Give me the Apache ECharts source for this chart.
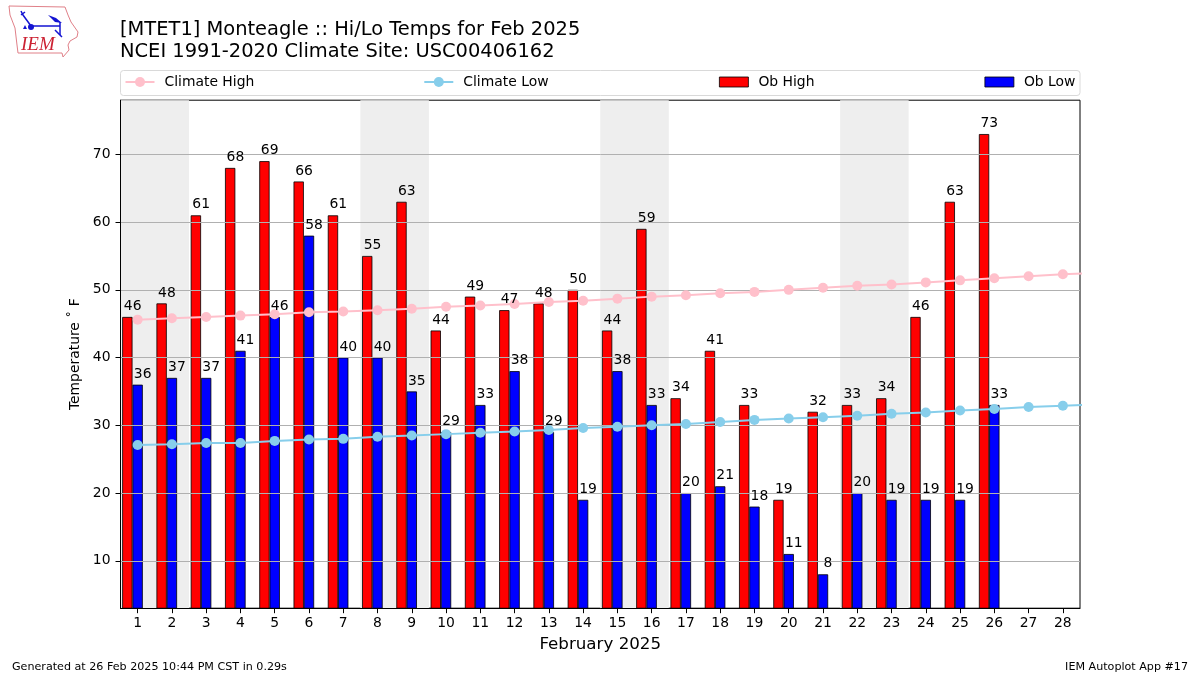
<!DOCTYPE html>
<html><head><meta charset="utf-8">
<style>html,body{margin:0;padding:0;background:#fff}#c{width:1200px;height:675px}</style>
<script src="https://cdn.jsdelivr.net/npm/echarts@6/dist/echarts.min.js"></script>
</head><body><div id="c"></div>
<script>
const days = ['1','2','3','4','5','6','7','8','9','10','11','12','13','14','15','16','17','18','19','20','21','22','23','24','25','26','27','28'];
const obHigh = [46,48,61,68,69,66,61,55,63,44,49,47,48,50,44,59,34,41,33,19,32,33,34,46,63,73,null,null];
const obLow = [36,37,37,41,46,58,40,40,35,29,33,38,29,19,38,33,20,21,18,11,8,20,19,19,19,33,null,null];
const climateDays = [1,2,3,4,5,6,7,8,9,10,11,12,13,14,15,16,17,18,19,20,21,22,23,24,25,26,27,28,29];
const climateHigh = [45.6,45.8,46,46.2,46.4,46.7,46.8,47,47.2,47.5,47.7,47.9,48.2,48.4,48.7,49,49.2,49.5,49.7,50,50.3,50.6,50.8,51.1,51.4,51.7,52,52.3,52.5];
const climateLow = [27.1,27.2,27.4,27.4,27.7,27.9,28,28.3,28.5,28.7,28.9,29.1,29.3,29.6,29.8,30,30.2,30.5,30.8,31,31.2,31.4,31.7,31.9,32.2,32.4,32.7,32.9,33.1];
const yTicks = [10,20,30,40,50,60,70];
const weekends = [[0.5,2.5],[7.5,9.5],[14.5,16.5],[21.5,23.5]];
const FONT = '"DejaVu Sans"';
const TXT = '#000';
const BLUE = '#1414d2';
const pair = (xs, ys) => xs.map((x,i)=>[x,ys[i]]);
const barSeries = (name, vals, shift, color) => ({
  name, type:'bar', xAxisIndex:1, yAxisIndex:0, z:2, barWidth:10.3, barGap:'-100%',
  data: vals.map((v,i)=>v==null?null:[i+1+shift,v]).filter(Boolean),
  itemStyle:{color, borderColor:'#000', borderWidth:0.8}
});
const labelSeries = (name, vals, dx) => ({
  name, type:'scatter', xAxisIndex:0, yAxisIndex:0, z:8, symbolSize:0, silent:true, itemStyle:{opacity:1},
  data: vals.map((v,i)=>v==null?null:[i,v]).filter(Boolean),
  label:{show:true, position:'top', distance:0, offset:[dx,-3.5], formatter:p=>p.value[1], fontFamily:FONT, fontSize:13.9, color:TXT}
});
const lineSeries = (name, vals, color) => ({
  name, type:'line', xAxisIndex:1, yAxisIndex:0, z:6, data:pair(climateDays, vals), symbol:'circle', symbolSize:10,
  lineStyle:{color, width:2}, itemStyle:{color}, showSymbol:true, clip:true
});
const legendText = {fontFamily:FONT, fontSize:13.9, color:TXT, padding:[0,0,0,5]};
const chart = echarts.init(document.getElementById('c'), null, {renderer:'canvas'});
chart.setOption({
  animation:false,
  backgroundColor:'#fff',
  title:[
    {text:'[MTET1] Monteagle :: Hi/Lo Temps for Feb 2025\nNCEI 1991-2020 Climate Site: USC00406162', left:120, top:19, padding:0,
     textStyle:{fontFamily:FONT, fontSize:19.45, fontWeight:'normal', color:TXT, lineHeight:22}},
    {text:'Generated at 26 Feb 2025 10:44 PM CST in 0.29s', left:12, top:662, padding:0, textStyle:{fontFamily:FONT, fontSize:11.13, fontWeight:'normal', color:TXT}},
    {text:'IEM Autoplot App #17', right:12, top:662, padding:0, textStyle:{fontFamily:FONT, fontSize:11.13, fontWeight:'normal', color:TXT}}
  ],
  legend:[
    {show:true, left:124.5, top:75, padding:0, itemGap:169, itemWidth:29, itemHeight:12.5, selectedMode:false,
     data:['Climate High','Climate Low'], textStyle:legendText},
    {show:true, left:719, top:75, padding:0, itemGap:170, itemWidth:29, itemHeight:10, selectedMode:false,
     itemStyle:{borderWidth:0.8},
     data:[{name:'Ob High',icon:'rect'},{name:'Ob Low',icon:'rect'}], textStyle:legendText}
  ],
  grid:{show:true, left:120.5, right:120, top:100.2, bottom:66.8, borderColor:'#000', borderWidth:1, backgroundColor:'#fff', containLabel:false},
  xAxis:[
    {type:'category', data:days, position:'bottom', boundaryGap:true, z:4,
     name:'February 2025', nameLocation:'middle', nameGap:28, nameTextStyle:{fontFamily:FONT, fontSize:16.7, color:TXT},
     axisLine:{show:true, lineStyle:{color:'#000', width:1}},
     axisTick:{show:true, alignWithLabel:true, length:5, lineStyle:{color:'#000', width:1}},
     axisLabel:{fontFamily:FONT, fontSize:13.9, color:TXT, margin:8, interval:0}, splitLine:{show:false}},
    {type:'value', min:0.5, max:28.5, show:false, splitLine:{show:false}}
  ],
  yAxis:[{type:'value', min:3, max:78, z:3, position:'left',
    name:'Temperature ˚ F', nameLocation:'middle', nameGap:36, nameRotate:90, nameTextStyle:{fontFamily:FONT, fontSize:13.9, color:TXT},
    axisLine:{show:true, lineStyle:{color:'#000', width:1}},
    axisTick:{show:true, length:5, lineStyle:{color:'#000', width:1}, customValues:yTicks},
    axisLabel:{fontFamily:FONT, fontSize:13.9, color:TXT, margin:10, padding:[3,0,0,0], customValues:yTicks},
    splitLine:{show:true, lineStyle:{color:'#b0b0b0', width:1}}
  }],
  series:[
    {name:'weekend', type:'line', xAxisIndex:1, yAxisIndex:0, z:1, data:[], silent:true,
     markArea:{silent:true, itemStyle:{color:'#eeeeee'}, label:{show:false},
       data:weekends.map(w=>[{xAxis:w[0], yAxis:3},{xAxis:w[1], yAxis:78}])}},
    barSeries('Ob High', obHigh, -0.3, '#ff0000'),
    barSeries('Ob Low', obLow, 0, '#0000ff'),
    lineSeries('Climate High', climateHigh, '#ffc0cb'),
    lineSeries('Climate Low', climateLow, '#87ceeb'),
    labelSeries('High labels', obHigh, -5),
    labelSeries('Low labels', obLow, 5)
  ],
  graphic:[
    {type:'rect', z:-1, shape:{x:120.5, y:70.5, width:959.5, height:25, r:3}, style:{fill:'#fff', stroke:'#d9d9d9', lineWidth:1}},
    {type:'polyline', shape:{points:[[9,6],[65,7],[68,15],[71,22],[78,32],[77,37],[70,41],[68,45],[69,50],[63,57],[62,53],[18,53],[17,45],[15,28],[10,15],[9,6]]}, style:{fill:'none', stroke:'#e08088', lineWidth:1}},
    {type:'polyline', shape:{points:[[21,11],[23,15],[31,26],[60,26]]}, style:{fill:'none', stroke:BLUE, lineWidth:1.5}},
    {type:'polyline', shape:{points:[[21,15],[25,12]]}, style:{fill:'none', stroke:BLUE, lineWidth:1.5}},
    {type:'circle', shape:{cx:31, cy:27, r:3}, style:{fill:BLUE}},
    {type:'polygon', shape:{points:[[48,15],[56,18],[62,23],[55,22]]}, style:{fill:BLUE}},
    {type:'polyline', shape:{points:[[60,22],[60,35]]}, style:{fill:'none', stroke:BLUE, lineWidth:1.5}},
    {type:'polyline', shape:{points:[[55,30],[62,37]]}, style:{fill:'none', stroke:BLUE, lineWidth:1.5}},
    {type:'polygon', shape:{points:[[23,29],[25,25],[27,29]]}, style:{fill:BLUE}},
    {type:'text', style:{x:21, y:45, text:'IEM', fill:'#cc2233', font:'italic 19px "Liberation Serif"', verticalAlign:'middle'}}
  ]
});
</script></body></html>
